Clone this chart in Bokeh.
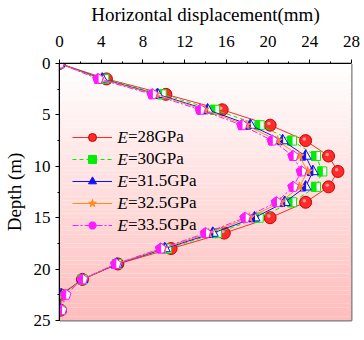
import numpy as np
from bokeh.plotting import figure
from bokeh.models import Legend, LegendItem, FixedTicker, Label, LinearAxis, CustomJSTickFormatter
from bokeh.embed import file_html
from bokeh.resources import INLINE

# ---------------- data ----------------
depth = [0, 1.5, 3, 4.5, 6, 7.5, 9, 10.5, 12, 13.5, 15, 16.5, 18, 19.5, 21, 22.5, 24]
e28 = [0, 4.5, 10.2, 15.6, 20.2, 23.6, 25.8, 26.7, 25.8, 23.6, 20.2, 15.8, 10.7, 5.6, 2.2, 0.1, 0.1]
e30 = [0, 4.3, 9.8, 14.9, 19.2, 22.3, 24.6, 25.2, 24.6, 22.3, 19.1, 15.1, 10.3, 5.5, 2.2, 0.1, 0.1]
e315 = [0, 4.1, 9.4, 14.2, 18.3, 21.4, 23.6, 24.3, 23.6, 21.6, 18.7, 14.7, 10.1, 5.5, 2.2, 0.2, 0.1]
e325 = [0, 3.9, 9.2, 13.9, 17.9, 20.9, 23.0, 23.8, 23.0, 21.2, 18.2, 14.3, 9.9, 5.4, 2.2, 0.3, 0.1]
e335 = [0, 3.7, 8.9, 13.5, 17.5, 20.4, 22.4, 23.2, 22.4, 20.8, 17.8, 14.0, 9.7, 5.4, 2.2, 0.6, 0.2]
label_sym = "E"
label_rest = ["=28GPa", "=30GPa", "=31.5GPa", "=32.5GPa", "=33.5GPa"]
x_ticks = [0, 4, 8, 12, 16, 20, 24, 28]
y_ticks = [0, 5, 10, 15, 20, 25]

FW, FH = 292, 257
X0, X1, Y0, Y1 = 0, 28, 0, 25
kx = FW / (X1 - X0)
ky = FH / (Y1 - Y0)

p = figure(frame_width=FW, frame_height=FH, output_backend="svg", toolbar_location=None,
           x_range=(X0, X1), y_range=(Y1, Y0), x_axis_location="above",
           min_border_left=51, min_border_top=56, min_border_right=2, min_border_bottom=8)
p.background_fill_color = "white"
p.border_fill_color = "white"
p.grid.visible = False
p.outline_line_color = "#7a7a7a"
p.outline_line_width = 2

# gradient background bands
nb = 60
edges = np.linspace(Y0, Y1, nb + 1)
cols = []
for i in range(nb):
    t = (i + 0.5) / nb
    g = int(round(255 - t * 67))
    cols.append("#%02x%02x%02x" % (255, g, g))
p.quad(left=X0, right=X1, top=edges[:-1], bottom=edges[1:], fill_color=cols, line_color=None)

serif = "Liberation Serif"
for ax in (p.xaxis, p.yaxis):
    ax.axis_line_color = "black"
    ax.major_tick_line_color = "black"
    ax.minor_tick_line_color = "black"
    ax.major_tick_in = 0
    ax.major_tick_out = 4
    ax.minor_tick_in = 0
    ax.minor_tick_out = 2
    ax.major_label_text_font = serif
    ax.major_label_text_font_size = "17px"
    ax.major_label_text_color = "black"
    ax.axis_label_text_font = serif
    ax.axis_label_text_font_size = "19px"
    ax.axis_label_text_font_style = "normal"
    ax.axis_label_text_color = "black"

p.xaxis.ticker = FixedTicker(ticks=x_ticks, minor_ticks=list(range(0, 29, 2)))
p.yaxis.ticker = FixedTicker(ticks=y_ticks, minor_ticks=[2.5 * i for i in range(11)])
p.xaxis.axis_label = "Horizontal displacement(mm)"
p.yaxis.axis_label = "Depth (m)"
p.xaxis.major_label_standoff = 13
p.xaxis.axis_label_standoff = 8
p.yaxis.major_label_standoff = 5
p.yaxis.axis_label_standoff = 6

# blank spacer axes (white tick, empty label) so the end tick labels are not clipped
for side, tick, out in (("below", X0, 10), ("right", Y0, 9)):
    spacer = LinearAxis(ticker=FixedTicker(ticks=[tick], minor_ticks=[]), axis_line_color=None,
                        major_tick_line_color="white", minor_tick_line_color=None,
                        major_tick_in=0, major_tick_out=out, minor_tick_in=0, minor_tick_out=0,
                        major_label_standoff=0, major_label_text_font_size="1px",
                        formatter=CustomJSTickFormatter(code="return ''"))
    p.add_layout(spacer, side)


def half(xs, ys, pts):
    px, py = [], []
    for x, y in zip(xs, ys):
        px.append([x + dx / kx for dx, dy in pts])
        py.append([y + dy / ky for dx, dy in pts])
    return px, py


series = [
    (e28, "#ff2a2a", "solid", "circle", 12),
    (e30, "#00ee00", "dashed", "square", 9),
    (e315, "#1010ff", "solid", "triangle", 11),
    (e325, "#ff8c1a", "solid", "star", 10),
    (e335, "#ff19ff", "dashdot", "hex", 11),
]
dashes = {"solid": "solid", "dashed": "4 3", "dashdot": "6 2 2 2"}
nan = [float("nan")]

LEG_X, LEG_TOP, ROW_H, ROW_GAP, GLYPH_W, STANDOFF = 13, 64, 20, 2, 40, 5
E_W = 11

items = []
for (vals, col, dash, mk, sz), lab in zip(series, label_rest):
    ln = p.line(vals, depth, line_color=col, line_width=1, line_dash=dashes[dash])
    if mk == "circle":
        p.scatter(vals, depth, marker="circle", size=sz, fill_color=col, line_color="#cc0000")
        p.scatter([v - 1.3 / kx for v in vals], [d - 1.6 / ky for d in depth], marker="circle",
                  size=3.5, fill_color="#ff9a9a", line_color=None)
        leg = p.scatter(nan, nan, marker="circle", size=sz, fill_color=col, line_color="#cc0000")
    elif mk == "star":
        p.scatter(vals, depth, marker="star", size=sz, fill_color=col, line_color=col)
        leg = p.scatter(nan, nan, marker="star", size=sz, fill_color=col, line_color=col)
    else:
        if mk == "square":
            h = sz / 2
            pts = [(-h, -h), (0, -h), (0, h), (-h, h)]
            p.scatter(vals, depth, marker="square", size=sz, fill_color="white", line_color=col)
        elif mk == "triangle":
            h = sz / 2
            pts = [(0, -h), (-h, h * 0.75), (0, h * 0.75)]
            p.scatter(vals, depth, marker="triangle", size=sz, fill_color="white", line_color=col)
        else:
            r = sz / 2
            ang = [np.pi / 2 + k * 2 * np.pi / 5 for k in range(5)]
            pent = [(r * np.cos(a), -r * np.sin(a)) for a in ang]
            pts = [pent[0], pent[1], pent[2], (0, pent[2][1])]
            fx, fy = half(vals, depth, pent)
            p.patches(fx, fy, fill_color="white", line_color=col)
        hx, hy = half(vals, depth, pts)
        p.patches(hx, hy, fill_color=col, line_color=col)
        leg = p.scatter(nan, nan, marker=mk, size=sz, fill_color=col, line_color=col)
    items.append(LegendItem(label=lab, renderers=[ln, leg]))

n = len(items)
leg_h = n * ROW_H + (n - 1) * ROW_GAP
legend = Legend(items=items, location=(LEG_X, FH - LEG_TOP - leg_h))
legend.background_fill_alpha = 0
legend.border_line_color = None
legend.padding = 0
legend.margin = 0
legend.spacing = ROW_GAP
legend.glyph_width = GLYPH_W
legend.glyph_height = ROW_H
legend.label_height = ROW_H
legend.label_standoff = STANDOFF + E_W
legend.label_text_font = serif
legend.label_text_font_size = "17px"
legend.label_text_color = "black"
p.add_layout(legend, "center")

# italic "E" in front of each legend label
for i in range(n):
    cy = LEG_TOP + i * (ROW_H + ROW_GAP) + ROW_H / 2
    p.add_layout(Label(x=X0 + (LEG_X + GLYPH_W + STANDOFF) / kx, y=Y0 + cy / ky, text=label_sym,
                       text_font=serif, text_font_size="17px", text_font_style="italic",
                       text_baseline="middle", text_align="left", text_color="black"))

open("out.html", "w").write(file_html(p, INLINE))
